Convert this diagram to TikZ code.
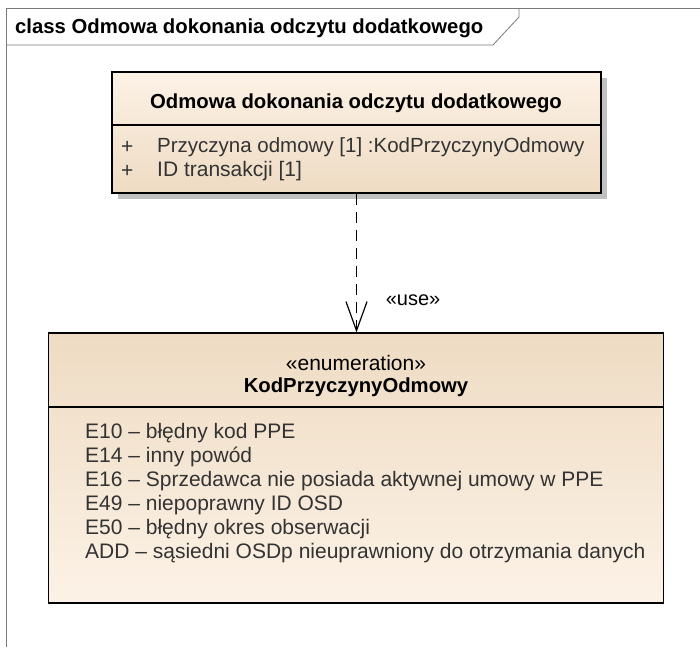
\documentclass[tikz,border=0pt]{standalone}
\usepackage{fontspec}
\setmainfont{Liberation Sans}
\usepackage{xcolor}
\usepackage{tikz}
\usetikzlibrary{
  arrows.meta,
  positioning,
}
\definecolor{framegray}{HTML}{7A7A7A}
\definecolor{shadowgray}{HTML}{C0C0C0}
\definecolor{beigelight}{HTML}{FCF2E6}
\definecolor{beigedark}{HTML}{EEDBC3}
\definecolor{itemgray}{HTML}{333333}

\tikzset{
  classbox/.style={draw=black, line width=1.2pt, inner sep=0pt},
  member/.style={anchor=west, text=itemgray, font=\fontsize{21}{24}\selectfont, inner sep=0pt},
  heading/.style={font=\bfseries\fontsize{20.3}{24}\selectfont, inner sep=0pt},
}

\begin{document}
\begin{tikzpicture}[x=1pt, y=-1pt]
  \useasboundingbox (0,0) rectangle (700,647);
  % frame
  \draw[framegray, line width=0.8pt] (700,8) -- (6,8) -- (6,647);
  \draw[framegray, line width=0.8pt] (6,45) -- (493,45) -- (519,17) -- (519,8);
  \node[heading, anchor=west] (frametitle) at (15,28) {class Odmowa dokonania odczytu dodatkowego};
  % upper class
  \fill[shadowgray] (118,78) rectangle (607,199);
  \node[classbox, top color=beigelight, bottom color=beigedark,
        minimum width=489pt, minimum height=121pt] (odmowa) at (356.5,132.5) {};
  \draw[line width=1.2pt] (odmowa.west |- 0,125) -- (odmowa.east |- 0,125);
  \node[heading] (odmowatitle) at (356,103) {Odmowa dokonania odczytu dodatkowego};
  \node[member] (plusa) at (121,147) {+};
  \node[member, font=\fontsize{20.5}{24}\selectfont] (attra) at (157,147) {Przyczyna odmowy [1]\ :KodPrzyczynyOdmowy};
  \node[member] (plusb) at (121,171) {+};
  \node[member] (attrb) at (157,171) {ID transakcji [1]};
  % enumeration
  \node[classbox, top color=beigedark, bottom color=beigelight,
        minimum width=615pt, minimum height=270pt] (kod) at (356,468) {};
  \draw[line width=1.2pt] (kod.west |- 0,407) -- (kod.east |- 0,407);
  \node[font=\fontsize{21}{24}\selectfont, inner sep=0pt] (stereo) at (356,363) {«enumeration»};
  \node[heading] (kodtitle) at (356,387) {KodPrzyczynyOdmowy};
  \node[member] (e10) at (85,433) {E10 – błędny kod PPE};
  \node[member] (e14) at (85,457) {E14 – inny powód};
  \node[member] (e16) at (85,481) {E16 – Sprzedawca nie posiada aktywnej umowy w PPE};
  \node[member] (e49) at (85,505) {E49 – niepoprawny ID OSD};
  \node[member] (e50) at (85,529) {E50 – błędny okres obserwacji};
  \node[member] (add) at (85,553) {ADD – sąsiedni OSDp nieuprawniony do otrzymania danych};
  % dependency
  \draw[line width=1.3pt, dash pattern=on 11pt off 7pt,
        -{Straight Barb[length=29pt, width=21pt, line width=1.2pt]}]
    (odmowa.south) -- (odmowa.south |- kod.north);
  \node[font=\fontsize{20}{24}\selectfont, inner sep=0pt] (uselabel) at (413,300) {«use»};
\end{tikzpicture}
\end{document}
